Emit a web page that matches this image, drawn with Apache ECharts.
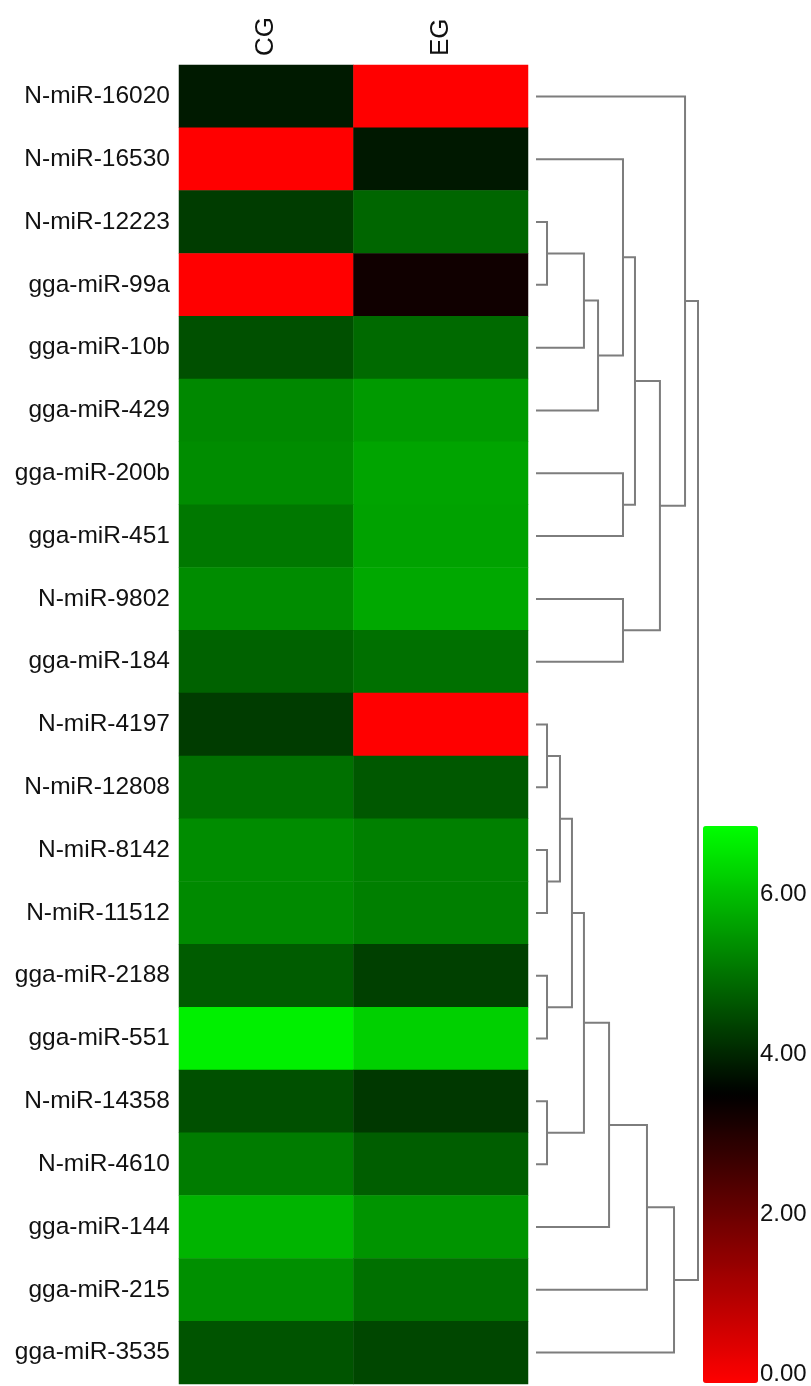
<!DOCTYPE html>
<html>
<head>
<meta charset="utf-8">
<script src="https://cdn.jsdelivr.net/npm/echarts@6/dist/echarts.min.js"></script>
<style>
  html, body { margin: 0; padding: 0; background: #ffffff; }
  #chart { width: 811px; height: 1386px; }
</style>
</head>
<body>
<div id="chart"></div>
<script>
// Row (miRNA) names in clustered order, top to bottom
const rowNames = [
  'N-miR-16020', 'N-miR-16530', 'N-miR-12223', 'gga-miR-99a', 'gga-miR-10b',
  'gga-miR-429', 'gga-miR-200b', 'gga-miR-451', 'N-miR-9802', 'gga-miR-184',
  'N-miR-4197', 'N-miR-12808', 'N-miR-8142', 'N-miR-11512', 'gga-miR-2188',
  'gga-miR-551', 'N-miR-14358', 'N-miR-4610', 'gga-miR-144', 'gga-miR-215',
  'gga-miR-3535'
];

// Sample groups (columns)
const groups = ['CG', 'EG'];

// Expression values per group, same order as rowNames
const cgValues = [
  3.89, 0.00, 4.33, 0.00, 4.59,
  5.31, 5.36, 5.10, 5.36, 4.82,
  4.33, 5.00, 5.36, 5.33, 4.74,
  6.66, 4.59, 5.15, 5.88, 5.39,
  4.64
];
const egValues = [
  0.00, 3.86, 4.87, 3.33, 4.92,
  5.54, 5.67, 5.65, 5.72, 5.00,
  0.00, 4.69, 5.21, 5.19, 4.38,
  6.24, 4.27, 4.77, 5.46, 5.00,
  4.46
];

// Colour scale range and its labelled ticks
const scaleMin = 0;
const scaleMax = 6.85;
const scaleMid = 3.55;
const scaleTicks = [0, 2, 4, 6];

// Row clustering: [childA, childB, height]; ids >= rowNames.length refer to earlier merges
const merges = [
  [2, 3, 0.068],
  [21, 4, 0.296],
  [22, 5, 0.383],
  [1, 23, 0.537],
  [6, 7, 0.537],
  [24, 25, 0.611],
  [8, 9, 0.537],
  [26, 27, 0.765],
  [0, 28, 0.920],
  [10, 11, 0.068],
  [12, 13, 0.068],
  [30, 31, 0.148],
  [14, 15, 0.068],
  [32, 33, 0.222],
  [16, 17, 0.068],
  [34, 35, 0.296],
  [36, 18, 0.451],
  [37, 19, 0.685],
  [38, 20, 0.852],
  [29, 39, 1.000]
];

// Red - black - green palette
function paletteColor(v) {
  let r = 0, g = 0;
  if (v <= scaleMid) {
    r = Math.round(255 * (scaleMid - v) / (scaleMid - scaleMin));
  } else {
    g = Math.round(255 * (v - scaleMid) / (scaleMax - scaleMid));
  }
  r = Math.max(0, Math.min(255, r));
  g = Math.max(0, Math.min(255, g));
  return 'rgb(' + r + ',' + g + ',0)';
}
const paletteStops = [];
for (let i = 0; i <= 80; i++) {
  paletteStops.push(paletteColor(scaleMin + (scaleMax - scaleMin) * i / 80));
}

// Heatmap cells
const heatData = [];
rowNames.forEach((name, i) => {
  heatData.push([0, i, cgValues[i]]);
  heatData.push([1, i, egValues[i]]);
});

// Dendrogram node positions (row position, height)
const nLeaves = rowNames.length;
const nodePos = {};
for (let i = 0; i < nLeaves; i++) nodePos[i] = { y: i, h: 0 };
const dendroData = merges.map((m, k) => {
  const a = nodePos[m[0]], b = nodePos[m[1]];
  nodePos[nLeaves + k] = { y: (a.y + b.y) / 2, h: m[2] };
  return [a.y, a.h, b.y, b.h, m[2]];
});

const FONT = "'Liberation Sans', Arial, sans-serif";
const TOP = 65, HEIGHT = 1319;

const chart = echarts.init(document.getElementById('chart'), null, { renderer: 'canvas' });
chart.setOption({
  backgroundColor: '#ffffff',
  animation: false,
  grid: [
    { left: 179, top: TOP, width: 349, height: HEIGHT },
    { left: 536, top: TOP, width: 162, height: HEIGHT },
    { left: 703, top: 826, width: 55, height: 557 }
  ],
  xAxis: [
    {
      type: 'category', data: groups, gridIndex: 0, position: 'top',
      axisLine: { show: false }, axisTick: { show: false }, splitLine: { show: false },
      axisLabel: { rotate: -90, fontSize: 26, color: '#111111', fontFamily: FONT, margin: 9 }
    },
    {
      type: 'value', gridIndex: 1, min: 0, max: 1, show: false
    },
    {
      type: 'value', gridIndex: 2, min: 0, max: 1, show: false
    }
  ],
  yAxis: [
    {
      type: 'category', data: rowNames, gridIndex: 0, inverse: true,
      axisLine: { show: false }, axisTick: { show: false }, splitLine: { show: false },
      axisLabel: { fontSize: 24.5, color: '#111111', fontFamily: FONT, margin: 9 }
    },
    {
      type: 'value', gridIndex: 1, min: -0.5, max: nLeaves - 0.5, inverse: true, show: false
    },
    {
      type: 'value', gridIndex: 2, min: scaleMin, max: scaleMax, position: 'right',
      axisLine: { show: false }, axisTick: { show: false }, splitLine: { show: false },
      axisLabel: {
        customValues: scaleTicks,
        formatter: v => v.toFixed(2),
        fontSize: 24, color: '#111111', fontFamily: FONT, margin: 2
      }
    }
  ],
  visualMap: {
    type: 'continuous',
    seriesIndex: 0,
    min: scaleMin, max: scaleMax,
    calculable: false, hoverLink: false,
    orient: 'vertical',
    left: 703, top: 826,
    itemWidth: 55, itemHeight: 557,
    padding: 0,
    text: null,
    inRange: { color: paletteStops }
  },
  series: [
    {
      type: 'heatmap',
      xAxisIndex: 0, yAxisIndex: 0,
      data: heatData,
      itemStyle: { borderWidth: 0 },
      emphasis: { disabled: true }
    },
    {
      type: 'custom',
      xAxisIndex: 1, yAxisIndex: 1,
      data: dendroData,
      encode: { x: [1, 3, 4], y: [0, 2] },
      renderItem: function (params, api) {
        const yA = api.value(0), hA = api.value(1);
        const yB = api.value(2), hB = api.value(3), hM = api.value(4);
        const pts = [
          api.coord([hA, yA]),
          api.coord([hM, yA]),
          api.coord([hM, yB]),
          api.coord([hB, yB])
        ];
        return {
          type: 'polyline',
          shape: { points: pts },
          style: { stroke: '#7d7d7d', lineWidth: 2, fill: null }
        };
      }
    }
  ]
});
</script>
</body>
</html>
